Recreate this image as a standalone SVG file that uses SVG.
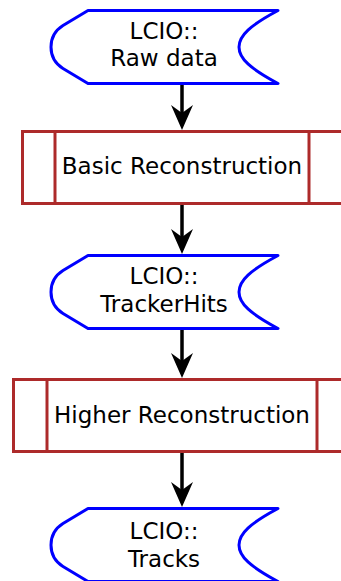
<svg xmlns="http://www.w3.org/2000/svg" width="341" height="581" viewBox="0 0 341 581">
<style>
.data{fill:#fff;stroke:#0000ff;stroke-width:3;stroke-linejoin:round}
.proc{fill:#fff;stroke:#ad2a2a;stroke-width:3}
.t{font-family:"DejaVu Sans",sans-serif;font-size:23px;fill:#000;text-anchor:middle}
.c{stroke:#000;stroke-width:3.5;fill:none}
</style>
<defs>
<marker id="ah" markerWidth="25" markerHeight="22" refX="13" refY="11" orient="auto" markerUnits="userSpaceOnUse">
<path d="M0,0 L25,11 L0,22 L8,11 Z" fill="#000"/>
</marker>
<path id="sd" d="M88,0 L278,0 C250,15 239,25 239,36.5 C239,48 250,58 278,73 L88,73 L63,58 C47,48 47,25 63,15 Z"/>
</defs>
<g id="connectors">
<line class="c" x1="182" y1="84" x2="182" y2="118" marker-end="url(#ah)"/>
<line class="c" x1="182" y1="204" x2="182" y2="242" marker-end="url(#ah)"/>
<line class="c" x1="182" y1="328" x2="182" y2="366" marker-end="url(#ah)"/>
<line class="c" x1="182" y1="452" x2="182" y2="495" marker-end="url(#ah)"/>
</g>
<g id="raw">
<use href="#sd" class="data" transform="translate(0,10.5)"/>
<text class="t" x="164" y="39">LCIO::</text>
<text class="t" x="164" y="66">Raw data</text>
</g>
<g id="basic">
<rect class="proc" x="22.5" y="131.5" width="320" height="72"/>
<line class="proc" x1="55" y1="131.5" x2="55" y2="203.5"/>
<line class="proc" x1="309" y1="131.5" x2="309" y2="203.5"/>
<text class="t" x="182" y="174">Basic Reconstruction</text>
</g>
<g id="hits">
<use href="#sd" class="data" transform="translate(0,255.5)"/>
<text class="t" x="164" y="284">LCIO::</text>
<text class="t" x="164" y="312">TrackerHits</text>
</g>
<g id="higher">
<rect class="proc" x="13.5" y="379.5" width="340" height="72"/>
<line class="proc" x1="47" y1="379.5" x2="47" y2="451.5"/>
<line class="proc" x1="317" y1="379.5" x2="317" y2="451.5"/>
<text class="t" x="182" y="423">Higher Reconstruction</text>
</g>
<g id="tracks">
<use href="#sd" class="data" transform="translate(0,508.5)"/>
<text class="t" x="164" y="539">LCIO::</text>
<text class="t" x="164" y="567">Tracks</text>
</g>
</svg>
